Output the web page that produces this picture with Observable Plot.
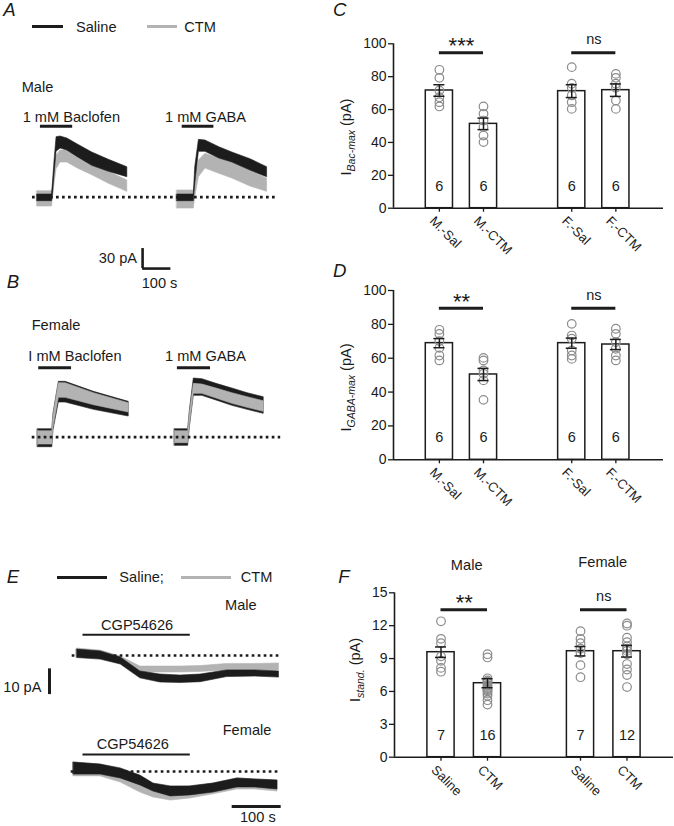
<!DOCTYPE html>
<html><head><meta charset="utf-8">
<script src="https://cdn.jsdelivr.net/npm/d3@7"></script>
<script src="https://cdn.jsdelivr.net/npm/@observablehq/plot@0.6"></script>
<style>
body{margin:0;background:#fff;}
#fig{position:relative;width:674px;height:826px;overflow:hidden;font-family:"Liberation Sans",Arial,sans-serif;color:#1a1a1a;background:#fff;}
.lbl{position:absolute;white-space:nowrap;line-height:1;font-size:14.6px;}
.letter{font-style:italic;font-size:18.6px;}
.sw{position:absolute;height:3.2px;}
</style></head><body><div id="fig"></div>
<script>
// ---------- DATA ----------
const BLACK = "#1c1c1c", GRAY = "#b3b3b3";
// bar charts
const groupsCD = ["M.-Sal", "M.-CTM", "F.-Sal", "F.-CTM"];
const groupsF = ["Saline", "CTM", "Saline", "CTM"];
const yTicksCD = [0, 20, 40, 60, 80, 100];
const yTicksF = [0, 3, 6, 9, 12, 15];
const meansC = [71.6, 51.3, 71.2, 71.8];
const semC = [3.5, 3.5, 3.9, 3.8];
const nC = [6, 6, 6, 6];
const ptsC = [[84.2, 79.3, 71.6, 67.5, 64.5, 61.9], [61.9, 57.4, 53.3, 49.3, 44.2, 40.2], [85.8, 75.7, 73.2, 68.6, 64.5, 60.4], [81.7, 79.3, 75.7, 73.2, 65.5, 60.4]];
const sigC = [{from: 0, to: 1, y: 94.5, text: "***"}, {from: 2, to: 3, y: 94.5, text: "ns"}];
const meansD = [68.9, 50.4, 68.9, 68.1];
const semD = [2.7, 3.6, 3.0, 3.0];
const nD = [6, 6, 6, 6];
const ptsD = [[76.8, 74.4, 70.1, 66.1, 61.6, 58.7], [60.2, 58.7, 52.8, 50.8, 46.9, 35.4], [80.3, 73.4, 71.5, 64.6, 61.6, 59.6], [77.4, 74.4, 69.5, 65.6, 61.6, 58.7]];
const sigD = [{from: 0, to: 1, y: 89.5, text: "**"}, {from: 2, to: 3, y: 89.5, text: "ns"}];
const meansF = [9.58, 6.75, 9.67, 9.67];
const semF = [0.48, 0.41, 0.43, 0.53];
const nF = [7, 16, 7, 12];
const ptsF = [[12.4, 10.8, 10.4, 9.2, 8.8, 8.15, 7.8], [9.4, 9.1, 7.2, 7.0, 6.9, 6.8, 6.6, 6.5, 6.3, 6.2, 6.1, 6.0, 5.8, 5.6, 5.2, 4.8], [11.5, 10.8, 10.4, 9.9, 9.5, 8.4, 7.3], [12.2, 12.0, 10.9, 10.5, 10.1, 9.9, 9.7, 9.4, 8.5, 8.0, 7.5, 6.4]];
const sigF = [{from: 0, to: 1, y: 13.45, text: "**"}, {from: 2, to: 3, y: 13.45, text: "ns"}];

// current traces: [time s, lower pA, upper pA] envelopes
const a1CTM = [[17,-14,9],[69,-14,9],[72,-2,14],[78,20,42],[85,42,62],[99,52,70],[123,52,70],[160,43,62],[211,33,52],[270,20,38],[335,8,25]];
const a1Sal = [[17,-6,4],[69,-6,4],[72,2,20],[78,35,55],[85,68,90],[99,73,91],[123,70,88],[160,60,79],[211,47,67],[270,38,56],[335,30,45]];
const a2CTM = [[511,-17,10],[570,-17,10],[575,0,25],[588,30,55],[611,43,65],[660,35,58],[706,28,52],[770,16,40],[829,8,28]];
const a2Sal = [[511,-6,4],[570,-6,4],[575,20,45],[588,68,86],[611,68,85],[660,58,75],[706,52,67],[770,40,57],[829,30,45]];
const b1Sal = [[19,-15,12],[70,-15,12],[74,10,35],[93,52,83],[117,52,83],[217,41,68],[340,31,53]];
const b1CTM = [[19,-11,9],[70,-11,9],[74,14,32],[93,59,81],[117,59,81],[217,48,66],[340,37,51]];
const b2Sal = [[503,-13,12],[550,-13,12],[556,15,40],[570,62,88],[600,62,87],[650,55,80],[706,47,73],[760,41,66],[817,35,60]];
const b2CTM = [[503,-9,9],[550,-9,9],[556,18,36],[570,65,80],[600,65,79],[650,58,73],[706,50,66],[760,44,60],[817,38,54]];
const eMSal = [[10,-1,2.3],[58,-1.6,1.6],[99,-3.5,-0.8],[139,-8.9,-6.2],[180,-10.5,-7.4],[221,-10.7,-7.8],[262,-10.4,-7.4],[316,-8.4,-5.8],[374,-8.2,-5.8],[422,-8.6,-6.2]];
const eMCTM = [[10,-0.4,2.7],[58,-1.2,1.9],[99,-3.1,-0.4],[139,-6.6,-4.3],[180,-6.6,-4.3],[221,-6.6,-4.3],[262,-6.4,-4.1],[316,-5.8,-3.3],[374,-5.8,-3.3],[422,-5.8,-3.1]];
const eFSal = [[3,-1.2,3.5],[58,-1.2,2.7],[99,-2.7,1.2],[139,-5.4,-1.6],[166,-7.8,-4.7],[201,-9.7,-5.8],[241,-9.3,-5.8],[288,-8.2,-4.7],[337,-6.2,-2.7],[374,-6.2,-3.1],[419,-7,-3.5]];
const eFCTM = [[3,-1.9,3.5],[58,-1.9,2.7],[99,-4.3,-0.4],[139,-8.2,-3.5],[166,-10.1,-5.8],[201,-11.3,-6.6],[241,-10.5,-5.8],[288,-8.9,-4.7],[337,-7,-2.7],[374,-7,-3.1],[419,-7.8,-3.5]];
// drug applications (s) and baselines (s)
const drugA = [[28, 142], [529, 641]];
const drugB = [[22, 138], [512, 629]];
const drugE = [[22, 241]];
const baseA = [0, 859], baseB = [-1, 877], baseEM = [0, 422], baseEF = [-2, 422];
const scaleAB = {pA: 30, s: 100};
const scaleE = {pA: 10, s: 100};

// ---------- LAYOUT ----------
const fig = document.getElementById("fig");
const FONT = '"Liberation Sans", Arial, sans-serif';
function place(el, left, top) {
  Object.assign(el.style, {position: "absolute", left: left + "px", top: top + "px", background: "transparent", overflow: "visible", fontFamily: FONT, fontSize: "14px", color: "#1a1a1a", maxWidth: "none"});
  fig.appendChild(el);
  return el;
}
function label(text, x, y, {anchor = "start", cls = "lbl", size} = {}) {
  const d = document.createElement("div");
  d.className = cls === "letter" ? "lbl letter" : "lbl";
  d.textContent = text;
  d.style.left = x + "px"; d.style.top = y + "px";
  if (size) d.style.fontSize = size + "px";
  const tx = anchor === "middle" ? "-50%" : anchor === "end" ? "-100%" : "0";
  d.style.transform = `translate(${tx},-50%)`;
  fig.appendChild(d);
}
function swatch(x, y, w, color) {
  const d = document.createElement("div");
  d.className = "sw";
  Object.assign(d.style, {left: x + "px", top: (y - 1.6) + "px", width: w + "px", background: color});
  fig.appendChild(d);
}

// trace panels
function tracePlot({left, top, width, height, x0, y0, sx, sy}, marks) {
  const p = Plot.plot({
    width, height, margin: 0,
    x: {domain: [(left - x0) / sx, (left + width - x0) / sx], axis: null},
    y: {domain: [(y0 - top - height) / sy, (y0 - top) / sy], axis: null},
    marks
  });
  return place(p, left, top);
}
const band = (data, fill) => Plot.areaY(data, {x: d => d[0], y1: d => d[1], y2: d => d[2], fill, stroke: fill, strokeWidth: 0.6, curve: "linear"});
const dotted = (span) => Plot.ruleY([0], {x1: span[0], x2: span[1], stroke: BLACK, strokeWidth: 2.7, strokeDasharray: "2.7,3.3"});
const drug = (spans, level, w) => Plot.ruleY(spans, {x1: d => d[0], x2: d => d[1], y: level, stroke: BLACK, strokeWidth: w});

// Panel A
tracePlot({left: 0, top: 0, width: 330, height: 280, x0: 32, y0: 196.7, sx: 0.283, sy: 0.667}, [
  band(a1CTM, GRAY), band(a1Sal, BLACK), band(a2CTM, GRAY), band(a2Sal, BLACK),
  dotted(baseA),
  drug(drugA, 106.4, 3),
  Plot.ruleX([389], {y1: -107, y2: -107 + scaleAB.pA, stroke: BLACK, strokeWidth: 2.6}),
  Plot.ruleY([-107], {x1: 389, x2: 389 + scaleAB.s, stroke: BLACK, strokeWidth: 2.6})
]);
// Panel B
tracePlot({left: 0, top: 280, width: 330, height: 170, x0: 32, y0: 436.7, sx: 0.283, sy: 0.667}, [
  band(b1Sal, BLACK), band(b1CTM, GRAY), band(b2Sal, BLACK), band(b2CTM, GRAY),
  dotted(baseB),
  drug(drugB, 104, 3)
]);
// Panel E male
tracePlot({left: 0, top: 630, width: 330, height: 85, x0: 71.7, y0: 655, sx: 0.49, sy: 2.57}, [
  band(eMCTM, GRAY), band(eMSal, BLACK),
  dotted(baseEM),
  drug(drugE, 8.05, 2),
  Plot.ruleX([-46.3], {y1: -15.2, y2: -15.2 + scaleE.pA, stroke: BLACK, strokeWidth: 3})
]);
// Panel E female
tracePlot({left: 0, top: 735, width: 330, height: 91, x0: 71.7, y0: 771, sx: 0.49, sy: 2.57}, [
  band(eFCTM, GRAY), band(eFSal, BLACK),
  dotted(baseEF),
  drug(drugE, 6.6, 2),
  Plot.ruleY([-13.6], {x1: 326.5, x2: 326.5 + scaleE.s, stroke: BLACK, strokeWidth: 3})
]);

// bar panels
const slots = [1, 2, 4, 5];
function barPanel(c) {
  const unit = (c.width - c.ml - c.mr) / (c.xDomain[1] - c.xDomain[0]);
  const bw = 13.6 / unit, cap = 5.5 / unit;
  const rows = c.groups.map((g, i) => ({x: slots[i], g, mean: c.means[i], sem: c.sems[i], n: c.ns[i]}));
  const dots = c.pts.flatMap((arr, i) => arr.map(v => ({x: slots[i], v})));
  const sig = c.sig.map(s => ({x1: slots[s.from], x2: slots[s.to], y: s.y, text: s.text, star: s.text !== "ns"}));
  const p = Plot.plot({
    width: c.width, height: c.height,
    marginLeft: c.ml, marginRight: c.mr, marginTop: c.mt, marginBottom: c.mb,
    x: {domain: c.xDomain}, y: {domain: c.yDomain},
    marks: [
      Plot.rect(rows, {x1: d => d.x - bw, x2: d => d.x + bw, y1: 0, y2: "mean", fill: "white", stroke: BLACK, strokeWidth: 1.5}),
      Plot.ruleY([0], {stroke: BLACK, strokeWidth: 1.6}),
      Plot.ruleX([c.xDomain[0]], {stroke: BLACK, strokeWidth: 1.6}),
      Plot.axisY({ticks: c.yTicks, tickSize: 5, tickPadding: 2, label: null, strokeWidth: 1.3}),
      Plot.axisX({ticks: slots, tickSize: 4, tickFormat: () => "", label: null, strokeWidth: 1.3}),
      Plot.ruleY(sig, {x1: "x1", x2: "x2", y: "y", stroke: BLACK, strokeWidth: 3}),
      Plot.text(sig.filter(d => d.star), {x: d => (d.x1 + d.x2) / 2, y: "y", text: "text", dy: -6.5, fontSize: 22}),
      Plot.text(sig.filter(d => !d.star), {x: d => (d.x1 + d.x2) / 2, y: "y", text: "text", dy: -13, fontSize: 14.5}),
      Plot.dot(dots, {x: "x", y: "v", r: 4.3, stroke: "#8c8c8c", strokeWidth: 1.2}),
      Plot.ruleX(rows, {x: "x", y1: d => d.mean - d.sem, y2: d => d.mean + d.sem, stroke: BLACK, strokeWidth: 1.5}),
      Plot.ruleY(rows, {x1: d => d.x - cap, x2: d => d.x + cap, y: d => d.mean + d.sem, stroke: BLACK, strokeWidth: 1.5}),
      Plot.ruleY(rows, {x1: d => d.x - cap, x2: d => d.x + cap, y: d => d.mean - d.sem, stroke: BLACK, strokeWidth: 1.5}),
      Plot.text(rows, {x: "x", text: d => String(d.n), frameAnchor: "bottom", dy: -17.5, fontSize: 14.5})
    ]
  });
  place(p, c.left, c.top);
  const svg = d3.select(p);
  const xs = p.scale("x");
  const axisY = c.height - c.mb;
  // rotated category tick labels positioned with the plot's own x scale
  svg.append("g").attr("font-size", 13.2).attr("fill", BLACK)
    .selectAll("text").data(rows).join("text")
    .attr("transform", d => `translate(${xs.apply(d.x) - 7},${axisY + 11}) rotate(45)`)
    .attr("text-anchor", "start").attr("dy", "0.32em")
    .text(d => d.g);
  const t = svg.append("text")
    .attr("transform", `translate(${c.labX},${c.labY}) rotate(-90)`)
    .attr("text-anchor", "middle").attr("font-size", 14.5).attr("fill", BLACK);
  t.append("tspan").text("I");
  t.append("tspan").attr("font-size", 10.5).attr("font-style", "italic").attr("dy", 3.5).text(c.sub);
  t.append("tspan").attr("dy", -3.5).text(" (pA)");
}
barPanel({left: 330, top: 0, width: 344, height: 270, ml: 63, mr: 11, mt: 43.3, mb: 62.3,
  xDomain: [-0.04, 6.08], yDomain: [0, 100], yTicks: yTicksCD, groups: groupsCD,
  means: meansC, sems: semC, ns: nC, pts: ptsC, sig: sigC, sub: "Bac-max", labX: 21, labY: 137});
barPanel({left: 330, top: 270, width: 344, height: 260, ml: 63, mr: 11, mt: 20, mb: 70.7,
  xDomain: [-0.04, 6.08], yDomain: [0, 100], yTicks: yTicksCD, groups: groupsCD,
  means: meansD, sems: semD, ns: nD, pts: ptsD, sig: sigD, sub: "GABA-max", labX: 21, labY: 117.5});
barPanel({left: 330, top: 530, width: 344, height: 296, ml: 64, mr: 1, mt: 62.3, mb: 69.3,
  xDomain: [0, 6], yDomain: [0, 15], yTicks: yTicksF, groups: groupsF,
  means: meansF, sems: semF, ns: nF, pts: ptsF, sig: sigF, sub: "stand.", labX: 30, labY: 140});

// ---------- TEXT & LEGENDS ----------
label("A", 3.3, 10, {cls: "letter"});
label("B", 6.7, 281.5, {cls: "letter"});
label("C", 333, 10, {cls: "letter"});
label("D", 333, 270.7, {cls: "letter"});
label("E", 6.7, 576.7, {cls: "letter"});
label("F", 338.3, 576.7, {cls: "letter"});
swatch(31.7, 26.7, 31.6, BLACK); label("Saline", 76, 26.7);
swatch(146.7, 26.7, 30, GRAY); label("CTM", 184.3, 26.7);
label("Male", 21.7, 86.7);
label("1 mM Baclofen", 22.7, 116.7);
label("1 mM GABA", 165, 116.7);
label("30 pA", 137, 258.3, {anchor: "end"});
label("100 s", 141.7, 283.3);
label("Female", 31.7, 325);
label("I mM Baclofen", 28.3, 356);
label("1 mM GABA", 165, 356);
swatch(57.3, 577.3, 50, BLACK); label("Saline;", 119.3, 577.3);
swatch(180.7, 577.3, 50, GRAY); label("CTM", 240.7, 577.3);
label("Male", 225, 605);
label("CGP54626", 101, 625);
label("10 pA", 3.3, 686.7);
label("Female", 222.7, 730);
label("CGP54626", 96.7, 744);
label("100 s", 240, 816.5);
label("Male", 466.7, 565, {anchor: "middle"});
label("Female", 602.7, 561.7, {anchor: "middle"});
</script></body></html>
